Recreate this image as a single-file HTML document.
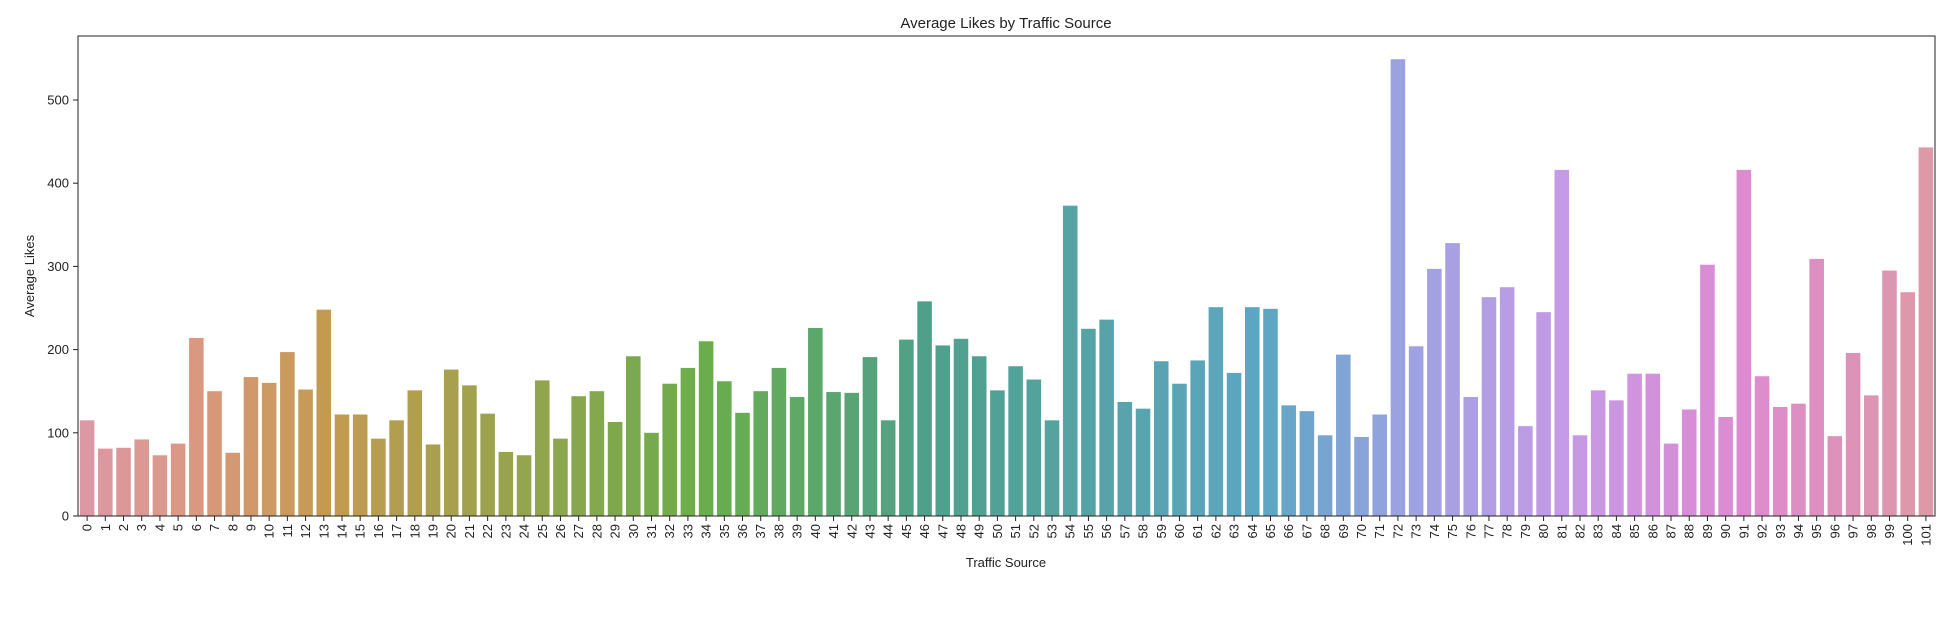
<!DOCTYPE html>
<html><head><meta charset="utf-8"><style>
body{margin:0;background:#fff;}
svg{font-family:"Liberation Sans","DejaVu Sans",sans-serif;}
</style></head><body>
<svg id="chart" width="1960" height="612">
<text x="1006" y="28" text-anchor="middle" font-size="15" fill="#222">Average Likes by Traffic Source</text>
<text x="1006" y="567" text-anchor="middle" font-size="13" fill="#222">Traffic Source</text>
<text transform="translate(34,276) rotate(-90)" text-anchor="middle" font-size="13" fill="#222">Average Likes</text>
<g id="bars"></g><g id="axes"></g>
</svg>
<script>
const categories = Array.from({length:102},(_,i)=>String(i));
const values = [115,81,82,92,73,87,214,150,76,167,160,197,152,248,122,122,93,115,151,86,176,157,123,77,73,163,93,144,150,113,192,100,159,178,210,162,124,150,178,143,226,149,148,191,115,212,258,205,213,192,151,180,164,115,373,225,236,137,129,186,159,187,251,172,251,249,133,126,97,194,95,122,549,204,297,328,143,263,275,108,245,416,97,151,139,171,171,87,128,302,119,416,168,131,135,309,96,196,145,295,269,443];
const yTicks = [0,100,200,300,400,500];

const NS="http://www.w3.org/2000/svg";
const L=78,R=1935,T=36,B=516,Y500=100;
const x=i=>L+(R-L)/categories.length*(i+0.5);
const bw=(R-L)/categories.length*0.8;
const y=v=>B-v*(B-Y500)/500;
const anchors=[[0,[221,152,165]],[6,[218,152,128]],[13,[196,154,80]],[34,[106,173,76]],[46,[79,160,138]],[65,[94,166,196]],[72,[154,163,224]],[81,[197,154,230]],[91,[221,138,208]],[101,[221,153,168]]];
function col(i){for(let k=0;k<anchors.length-1;k++){const[a,ca]=anchors[k],[b,cb]=anchors[k+1];if(i>=a&&i<=b){const t=(i-a)/(b-a);return `rgb(${ca.map((c,j)=>Math.round(c+(cb[j]-c)*t)).join(',')})`;}}return 'rgb(221,153,168)';}
function mk(t,a,p){const e=document.createElementNS(NS,t);for(const k in a)e.setAttribute(k,a[k]);if(p)p.appendChild(e);return e;}
const bars=document.getElementById('bars'),axes=document.getElementById('axes');
values.forEach((v,i)=>{
 const r=mk('rect',{x:x(i)-bw/2,y:y(v),width:bw,height:B-y(v),fill:col(i)},bars);
 
 
 mk('line',{x1:x(i),x2:x(i),y1:B,y2:B+5,stroke:'#222','stroke-width':1},axes);
 const t=mk('text',{transform:`translate(${x(i)+4.5},${B+8}) rotate(-90)`,'text-anchor':'end','font-size':13,fill:'#222'},axes);
 t.textContent=categories[i];
 
 
});
yTicks.forEach(v=>{
 mk('line',{x1:L-5,x2:L,y1:y(v),y2:y(v),stroke:'#222','stroke-width':1},axes);
 const t=mk('text',{x:L-9,y:y(v)+4.5,'text-anchor':'end','font-size':13,fill:'#222'},axes);
 t.textContent=v;
 
 
});
const fr=mk('rect',{x:L,y:T,width:R-L,height:B-T,fill:'none',stroke:'#222','stroke-width':1},axes);


</script>
</body></html>
